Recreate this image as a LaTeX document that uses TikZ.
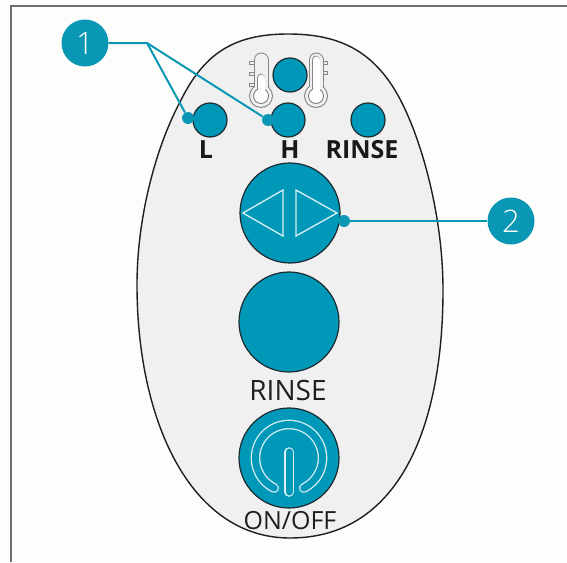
\documentclass[tikz,border=0pt]{standalone}
\usepackage{fontspec}
\setmainfont{Open Sans}
\newfontfamily\lightdigits{Open Sans Light}
\definecolor{teal1}{HTML}{0A97B5}
\definecolor{btn}{HTML}{0098B8}
\definecolor{edge}{HTML}{1E2A30}
\definecolor{frame}{HTML}{6E6E6E}
\definecolor{body}{HTML}{F1F0F0}
\definecolor{paper}{HTML}{FDFDFB}
\definecolor{therm}{HTML}{858585}
\tikzset{
  btnbig/.style={circle,draw=edge,fill=btn,line width=1.2pt,minimum size=100pt,inner sep=0pt},
  btnsmall/.style={circle,draw=edge,fill=btn,line width=1.2pt,minimum size=34pt,inner sep=0pt},
  callout/.style={circle,fill=teal1,minimum size=47pt,inner sep=0pt,text=white,font=\fontsize{31}{31}\selectfont\lightdigits},
  leaddot/.style={circle,fill=teal1,minimum size=12pt,inner sep=0pt},
  leader/.style={draw=teal1,line width=2pt},
  boldlabel/.style={font=\fontsize{25}{25}\selectfont\bfseries,text=black!90,inner sep=0pt},
  thinlabel/.style={font=\fontsize{25}{25}\selectfont,text=black!88,inner sep=0pt},
  glyph/.style={draw=white!85!btn,line width=1.3pt,line join=miter}
}
\newcommand{\thermLayer}[5]{%
  \draw[#5,line width=#3pt,line cap=round] (#1,#2) -- (#1,96);
  \fill[#5] (#1,96) circle[radius=#4pt];}
\begin{document}
\begin{tikzpicture}[x=1pt,y=-1pt]
\useasboundingbox (0,0) rectangle (567,562);
\fill[paper] (0,0) rectangle (567,562);
\draw[frame,line width=2pt] (11,562) -- (11,6) -- (567,6);
% body
\path[draw=black!88,fill=body,line width=1.4pt]
  (288,34) .. controls (232,34) and (203,55) .. (180,102)
  .. controls (157,145) and (137,215) .. (137,285)
  .. controls (137,420) and (190,538) .. (290,538)
  .. controls (400,538) and (443,425) .. (443,290)
  .. controls (443,210) and (418,126) .. (393,87)
  .. controls (368,48) and (335,34) .. (288,34) -- cycle;
% thermometers: ticks
\foreach \ty in {63,74,85}{
  \draw[therm,line width=3.6pt] (249,\ty) -- (258,\ty);
  \draw[body,line width=1.8pt] (250,\ty) -- (258,\ty);
}
\foreach \ty in {63,73}{
  \draw[therm,line width=3.6pt] (319,\ty) -- (328,\ty);
  \draw[body,line width=1.8pt] (319,\ty) -- (327,\ty);
}
\thermLayer{261}{60}{15}{12}{therm}
\thermLayer{261}{60}{13}{10.9}{body}
\thermLayer{261}{78}{8.6}{8}{therm}
\thermLayer{261}{78}{7}{6.9}{white}
\thermLayer{316}{60}{15}{12}{therm}
\thermLayer{316}{60}{13}{10.9}{body}
\thermLayer{316}{60}{8.6}{8}{therm}
\thermLayer{316}{60}{7}{6.9}{white}
% buttons
\node[btnsmall] (top) at (290,75) {};
\node[btnsmall] (low) at (210,120) {};
\node[btnsmall] (high) at (288,120) {};
\node[btnsmall] (rinsesmall) at (368,120) {};
\node[btnbig] (arrows) at (290,213) {};
\node[btnbig] (rinsebig) at (289,322) {};
\node[btnbig] (power) at (289,458) {};
% arrows glyph
\draw[glyph] (283,190) -- (243,213) -- (283,236) -- cycle;
\draw[glyph] (296,190) -- (337,213) -- (296,236) -- cycle;
% power glyph
\draw[white!85!btn,line width=9.6pt,line cap=round] (274.3,488.1) arc[start angle=244,end angle=-64,radius=33.5pt];
\draw[btn,line width=7pt,line cap=round] (274.3,488.1) arc[start angle=244,end angle=-64,radius=33.5pt];
\draw[white!85!btn,line width=9.6pt,line cap=round] (289,452) -- (289,492);
\draw[btn,line width=7pt,line cap=round] (289,452) -- (289,492);
% labels
\node[boldlabel] (lblL) at (206,150) {L};
\node[boldlabel] (lblH) at (290,150) {H};
\node[boldlabel] (lblR) at (362,150) {RINSE};
\node[thinlabel,font=\fontsize{28}{28}\selectfont] (lblRinse) at (288,390) {RINSE};
\node[thinlabel] (lblOn) at (290,521) {ON/OFF};
% callouts
\node[callout] (one) at (85,43) {1};
\node[callout] (two) at (511,221) {2};
\node[leaddot] (dotL) at (188,118) {};
\node[leaddot] (dotH) at (268,120) {};
\node[leaddot] (dotA) at (344,221) {};
\coordinate (joint) at (147,43);
\draw[leader] (one) -- (joint) -- (dotL);
\draw[leader] (joint) -- (dotH);
\draw[leader] (two) -- (dotA);
\end{tikzpicture}
\end{document}
